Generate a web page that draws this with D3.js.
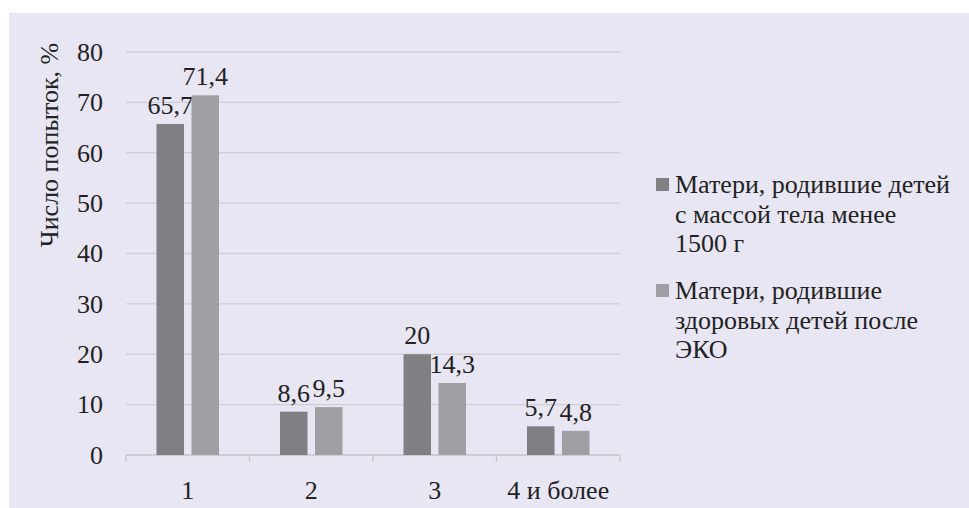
<!DOCTYPE html>
<html lang="ru"><head><meta charset="utf-8">
<script src="https://cdn.jsdelivr.net/npm/d3@7"></script>
</head><body style="margin:0">
<svg id="c" width="969" height="508" font-family="Times New Roman, Tinos, Liberation Serif, Noto Serif, serif"></svg>
<script>
const categories = ["1", "2", "3", "4 и более"];
const seriesNames = ["Матери, родившие детей с массой тела менее 1500 г", "Матери, родившие здоровых детей после ЭКО"];
const seriesA = [65.7, 8.6, 20, 5.7];
const seriesB = [71.4, 9.5, 14.3, 4.8];
const valueLabelsA = ["65,7", "8,6", "20", "5,7"];
const valueLabelsB = ["71,4", "9,5", "14,3", "4,8"];
const yTicks = [0, 10, 20, 30, 40, 50, 60, 70, 80];
const legendLines = [["Матери, родившие детей", "с массой тела менее", "1500 г"], ["Матери, родившие", "здоровых детей после", "ЭКО"]];
const colors = ["#7f7f84", "#9f9fa4"];

const FONT = '"Times New Roman", "Tinos", "Liberation Serif", "Noto Serif", serif';
const FS = 26;
const svg = d3.select("#c").style("display", "block");
svg.append("rect").attr("x", 9).attr("y", 13).attr("width", 960).attr("height", 495).attr("fill", "#e8e6f2");

const x0 = d3.scaleBand().domain(categories).range([126, 620]).padding(0);
const bw = x0.bandwidth();
const x1 = d3.scaleBand().domain([0, 1]).range([(bw - 62.5) / 2, (bw + 62.5) / 2]).paddingInner(0.214).paddingOuter(0);
const y = d3.scaleLinear().domain([0, 80]).range([455, 52]);

svg.append("g").selectAll("line").data(yTicks.filter(d => d > 0)).join("line")
  .attr("x1", 126).attr("x2", 620).attr("y1", d => y(d)).attr("y2", d => y(d))
  .attr("stroke", "#cfcfd5").attr("stroke-width", 1.3);

svg.append("g").selectAll("text").data(yTicks).join("text")
  .attr("x", 103).attr("y", d => y(d)).attr("dy", "0.34em")
  .attr("text-anchor", "end").style("font-family", FONT).attr("font-size", FS).attr("fill", "#222")
  .text(d => d3.format("d")(d));

svg.append("line").attr("x1", 126).attr("x2", 620).attr("y1", y(0)).attr("y2", y(0))
  .attr("stroke", "#c4c4ca").attr("stroke-width", 1.3);
const bounds = categories.map(c => x0(c)).concat([x0(categories[categories.length - 1]) + bw]);
svg.append("g").selectAll("line").data(bounds).join("line")
  .attr("x1", d => d).attr("x2", d => d).attr("y1", y(0)).attr("y2", y(0) + 7)
  .attr("stroke", "#c4c4ca").attr("stroke-width", 1.3);
svg.append("g").selectAll("text").data(categories).join("text")
  .attr("x", d => x0(d) + bw / 2).attr("y", 499)
  .attr("text-anchor", "middle").style("font-family", FONT).attr("font-size", FS).attr("fill", "#222")
  .text(d => d);

const series = [seriesA, seriesB];
const labels = [valueLabelsA, valueLabelsB];
series.forEach((vals, si) => {
  const g = svg.append("g");
  g.selectAll("rect").data(vals).join("rect")
    .attr("x", (d, i) => x0(categories[i]) + x1(si))
    .attr("width", x1.bandwidth())
    .attr("y", d => y(d))
    .attr("height", d => y(0) - y(d))
    .attr("fill", colors[si]);
  g.selectAll("text").data(vals).join("text")
    .attr("x", (d, i) => x0(categories[i]) + x1(si) + x1.bandwidth() / 2)
    .attr("y", d => y(d) - 10)
    .attr("text-anchor", "middle")
    .style("font-family", FONT).attr("font-size", FS).attr("fill", "#222")
    .text((d, i) => labels[si][i]);
});

svg.append("text").attr("transform", "translate(58,145) rotate(-90)")
  .attr("text-anchor", "middle").style("font-family", FONT).attr("font-size", FS).attr("fill", "#222")
  .text("Число попыток, %");

const legendTop = [193, 299];
legendLines.forEach((lines, li) => {
  svg.append("rect").attr("x", 656).attr("y", legendTop[li] - 15).attr("width", 13).attr("height", 13).attr("fill", colors[li]);
  lines.forEach((ln, k) => {
    svg.append("text").attr("x", 675).attr("y", legendTop[li] + k * 29.5)
      .style("font-family", FONT).attr("font-size", FS).attr("fill", "#222").text(ln);
  });
});
</script>
</body></html>
